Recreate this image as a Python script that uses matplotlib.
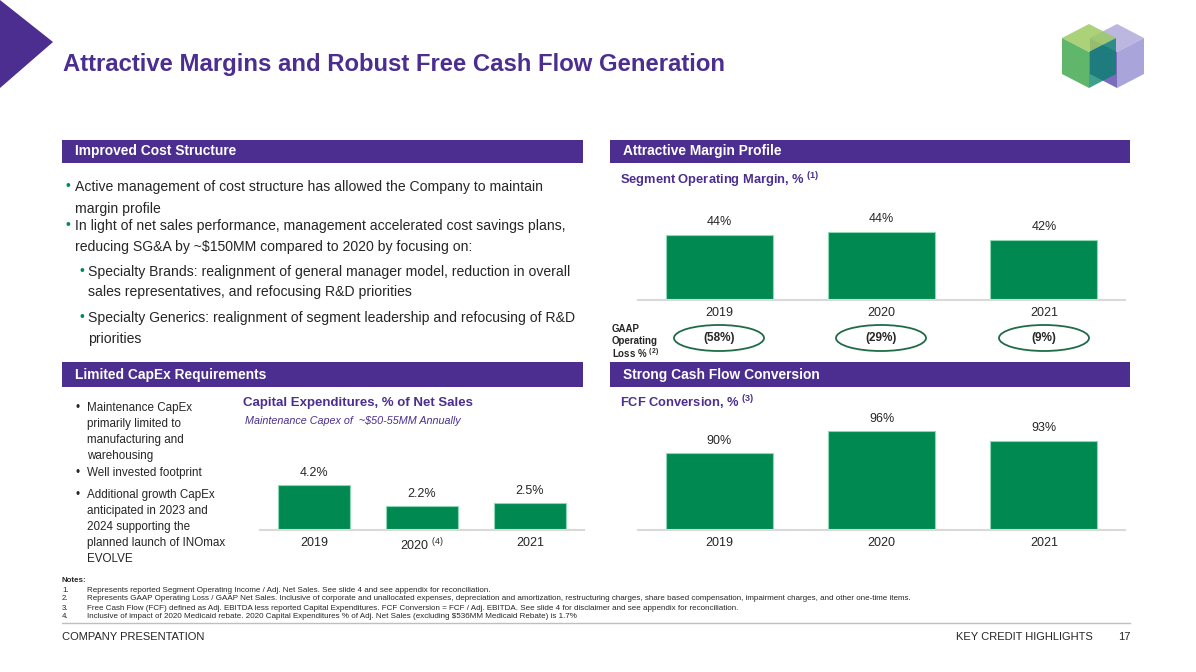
import matplotlib
matplotlib.use("Agg")
import matplotlib.pyplot as plt
from matplotlib.patches import Polygon, Rectangle, Ellipse

plt.rcParams['font.family'] = ['Liberation Sans', 'DejaVu Sans']
plt.rcParams['mathtext.fontset'] = 'custom'
plt.rcParams['mathtext.rm'] = 'Liberation Sans'
plt.rcParams['mathtext.bf'] = 'Liberation Sans:bold'

# data
years = ['2019', '2020', '2021']
seg_margin = [43.5, 44.3, 42.0]
seg_labels = ['44%', '44%', '42%']
gaap_loss = ['(58%)', '(29%)', '(9%)']
capex_pct = [4.2, 2.2, 2.5]
capex_labels = ['4.2%', '2.2%', '2.5%']
capex_ticks = ['2019', r'2020 $^{\mathregular{(4)}}$', '2021']
fcf_conv = [90.0, 95.8, 93.3]
fcf_labels = ['90%', '96%', '93%']

notes = [
    "Represents reported Segment Operating Income / Adj. Net Sales. See slide 4 and see appendix for reconciliation.",
    "Represents GAAP Operating Loss / GAAP Net Sales. Inclusive of corporate and unallocated expenses, depreciation and amortization, restructuring charges, share based compensation, impairment charges, and other one-time items.",
    "Free Cash Flow (FCF) defined as Adj. EBITDA less reported Capital Expenditures. FCF Conversion = FCF / Adj. EBITDA. See slide 4 for disclaimer and see appendix for reconciliation.",
    "Inclusive of impact of 2020 Medicaid rebate. 2020 Capital Expenditures % of Adj. Net Sales (excluding $536MM Medicaid Rebate) is 1.7%",
]

PURPLE = '#4B2E8F'
GREEN = '#008A52'
EDGE = '#8ED8B6'
TXT = '#262626'
W, H = 1196, 672

fig = plt.figure(figsize=(W / 100, H / 100), dpi=100)
fig.patch.set_facecolor('white')


def pt(x, y):
    return (x / W, 1 - y / H)


def put(x, y, s, size=10, color=TXT, weight='normal', ha='left', va='center',
        style='normal', math=False):
    return fig.text(x / W, 1 - y / H, s, fontsize=size, color=color, fontweight=weight,
                    ha=ha, va=va, fontstyle=style, parse_math=math)


def poly(points, color, alpha=1.0):
    fig.add_artist(Polygon([pt(x, y) for x, y in points], closed=True, facecolor=color,
                           edgecolor='none', alpha=alpha, transform=fig.transFigure))


def header(x0, x1, y0, y1, label):
    fig.add_artist(Rectangle(pt(x0, y1), (x1 - x0) / W, (y1 - y0) / H, facecolor=PURPLE,
                             edgecolor='none', transform=fig.transFigure))
    put(x0 + 13, (y0 + y1) / 2, label, size=9.9, color='white', weight='bold')


# corner triangle and title
poly([(0, 0), (53, 42), (0, 88)], PURPLE)
put(63, 65, 'Attractive Margins and Robust Free Cash Flow Generation', size=17.2,
    color=PURPLE, weight='bold')

# logo (stacked cubes)
poly([(1090, 38), (1117, 24), (1144, 38), (1117, 52)], '#B9B3E0', 0.95)
poly([(1090, 38), (1117, 52), (1117, 88), (1090, 74)], '#6C5DB5', 0.9)
poly([(1117, 52), (1144, 38), (1144, 74), (1117, 88)], '#A5A0D8', 0.95)
poly([(1062, 38), (1089, 24), (1116, 38), (1089, 52)], '#9CCB62', 0.85)
poly([(1062, 38), (1089, 52), (1089, 88), (1062, 74)], '#4FAE5A', 0.9)
poly([(1089, 52), (1116, 38), (1116, 74), (1089, 88)], '#00806A', 0.75)

# section headers
header(62, 583, 140, 163, 'Improved Cost Structure')
header(610, 1130, 140, 163, 'Attractive Margin Profile')
header(62, 583, 362, 387, 'Limited CapEx Requirements')
header(610, 1130, 362, 387, 'Strong Cash Flow Conversion')

# left top bullets
main_lines = [
    (66, 75, 187, 'Active management of cost structure has allowed the Company to maintain', True),
    (66, 75, 209, 'margin profile', False),
    (66, 75, 226, 'In light of net sales performance, management accelerated cost savings plans,', True),
    (66, 75, 247, 'reducing SG&A by ~$150MM compared to 2020 by focusing on:', False),
    (79, 88, 272, 'Specialty Brands: realignment of general manager model, reduction in overall', True),
    (79, 88, 292, 'sales representatives, and refocusing R&D priorities', False),
    (79, 88, 318, 'Specialty Generics: realignment of segment leadership and refocusing of R&D', True),
    (79, 88, 339, 'priorities', False),
]
for bx, tx, y, s, bullet in main_lines:
    if bullet:
        put(bx, y - 1, '•', size=10, color=GREEN)
    put(tx, y, s, size=10.1)

# left bottom bullets
capex_lines = [
    (408, 'Maintenance CapEx', True), (424, 'primarily limited to', False),
    (440, 'manufacturing and', False), (456, 'warehousing', False),
    (473, 'Well invested footprint', True),
    (495, 'Additional growth CapEx', True), (511, 'anticipated in 2023 and', False),
    (527, '2024 supporting the', False), (543, 'planned launch of INOmax', False),
    (559, 'EVOLVE', False),
]
for y, s, bullet in capex_lines:
    if bullet:
        put(76, y, '•', size=8.5)
    put(87, y, s, size=8.4)

# chart titles
put(620, 180, r'Segment Operating Margin, % $^{\mathregular{(1)}}$', size=9.3, color=PURPLE,
    weight='bold', math=True)
put(243, 403, 'Capital Expenditures, % of Net Sales', size=9.5, color=PURPLE, weight='bold')
put(245, 421, 'Maintenance Capex of  ~$50-55MM Annually', size=7.75, color=PURPLE, style='italic')
put(620, 403, r'FCF Conversion, % $^{\mathregular{(3)}}$', size=9.3, color=PURPLE,
    weight='bold', math=True)


def bar_chart(x0, x1, ytop, ybase, values, labels, ticks, ylo, yhi, width):
    ax = fig.add_axes([x0 / W, 1 - ybase / H, (x1 - x0) / W, (ybase - ytop) / H])
    xs = range(len(values))
    ax.bar(xs, [v - ylo for v in values], bottom=ylo, width=width, color=GREEN,
           edgecolor=EDGE, linewidth=0.8)
    for x, v, lab in zip(xs, values, labels):
        ax.annotate(lab, (x, v), xytext=(0, 9), textcoords='offset points', ha='center',
                    va='center', fontsize=9, color=TXT)
    ax.set_xlim(-0.5, len(values) - 0.5)
    ax.set_ylim(ylo, yhi)
    ax.set_xticks(list(xs))
    ax.set_xticklabels(ticks, fontsize=9, color=TXT)
    ax.tick_params(axis='x', length=0, pad=5)
    ax.set_yticks([])
    for side in ['top', 'left', 'right']:
        ax.spines[side].set_visible(False)
    ax.spines['bottom'].set_color('#D9D9D9')
    ax.spines['bottom'].set_linewidth(1.5)
    ax.patch.set_alpha(0)
    return ax


bar_chart(638, 1125, 200, 300, seg_margin, seg_labels, years, 25, 53.3, 0.66)
bar_chart(638, 1125, 410, 530, fcf_conv, fcf_labels, years, 70, 101.3, 0.66)
bar_chart(260, 584, 450, 530, capex_pct, capex_labels, capex_ticks, 0, 7.48, 0.667)

# GAAP operating loss row
put(612, 329, 'GAAP', size=7, weight='bold')
put(612, 341, 'Operating', size=7, weight='bold')
put(612, 353, r'Loss % $^{\mathregular{(2)}}$', size=7, weight='bold', math=True)
for cx, s in zip([719, 881, 1044], gaap_loss):
    fig.add_artist(Ellipse(pt(cx, 338), 90 / W, 26 / H, facecolor='none', edgecolor='#1F6B47',
                           linewidth=1.3, transform=fig.transFigure))
    put(cx, 338, s, size=8.5, weight='bold', ha='center')

# notes
put(62, 581, 'Notes:', size=5.7, weight='bold')
for i, s in enumerate(notes):
    y = 590 + i * 9
    put(62, y, f'{i + 1}.', size=5.7)
    put(87, y, s, size=5.75)

fig.add_artist(plt.Line2D([62 / W, 1130 / W], [1 - 623 / H, 1 - 623 / H], color='#BFBFBF',
                          linewidth=1, transform=fig.transFigure))
put(62, 637, 'COMPANY PRESENTATION', size=8.05)
put(1093, 637, 'KEY CREDIT HIGHLIGHTS', size=8.05, ha='right')
put(1130, 637, '17', size=8.05, ha='right')

fig.savefig('out.png', dpi=100)
